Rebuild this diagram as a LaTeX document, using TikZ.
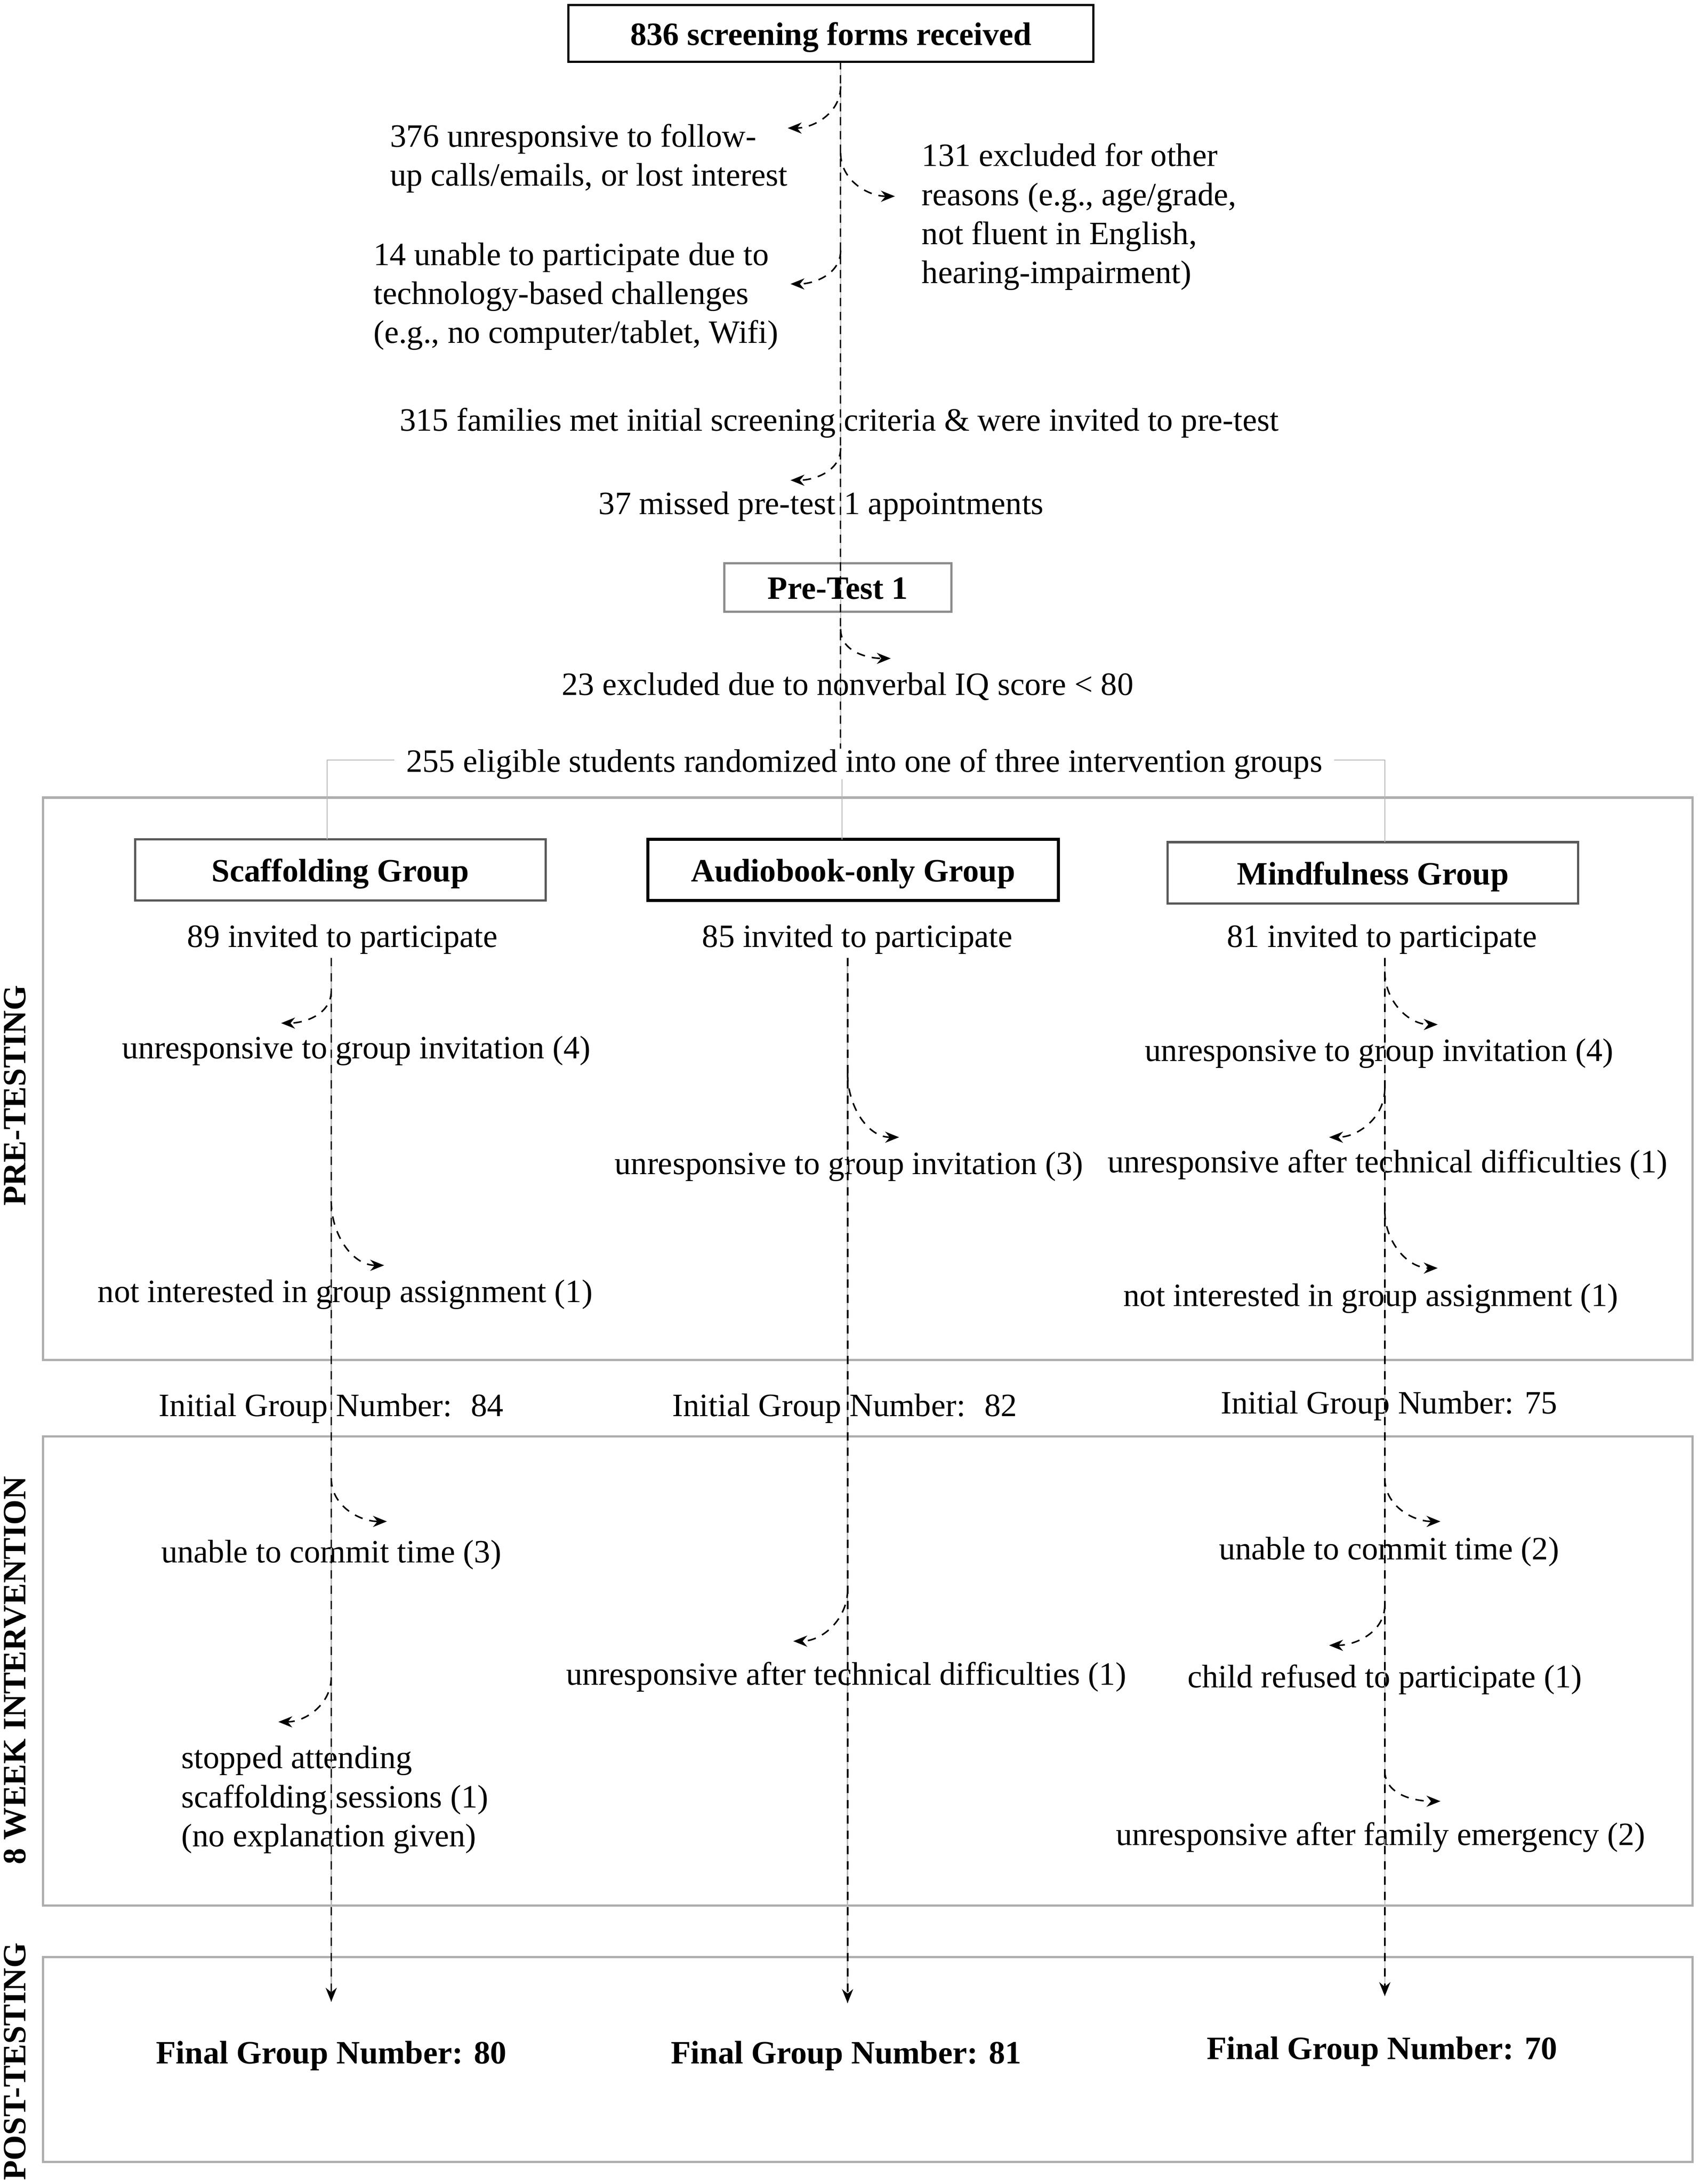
\documentclass[tikz,border=0pt]{standalone}
\usepackage{fontspec}
\setmainfont{Liberation Serif}
\usepackage{tikz}
\usetikzlibrary{arrows.meta}

\begin{document}
\begin{tikzpicture}[x=0.5pt,y=0.5pt]
  \tikzset{txt/.style = {font=\fontsize{11.7}{14}\selectfont, inner sep=0pt, align=center, text height=11pt, text depth=2.5pt}}
  \tikzset{ltxt/.style = {txt, align=left, anchor=base west}}
  \tikzset{btxt/.style = {txt, font=\fontsize{11.7}{14}\selectfont\bfseries}}
  \tikzset{box/.style = {btxt, draw, line width=0.8pt, minimum width=147.5pt, minimum height=22pt}}
  \tikzset{panel/.style = {draw=black!32, line width=0.8pt}}
  \tikzset{side/.style = {btxt, rotate=90}}
  \tikzset{link/.style = {draw=black!28, line width=0.4pt}}
  \tikzset{flow/.style = {line width=0.5pt, dash pattern=on 3pt off 2pt}}
  \tikzset{drop/.style = {flow, line width=0.55pt, dash pattern=on 3pt off 2.5pt, -{Stealth[length=5pt,width=4pt]}}}

  \useasboundingbox (0,0) rectangle (1220,-1569);

  % phase panels
  \draw[panel] (31,-573) rectangle (1216,-977);
  \draw[panel] (31,-1032) rectangle (1216,-1369);
  \draw[panel] (31,-1406) rectangle (1216,-1553);
  \node[side] (pre) at (10,-787) {PRE-TESTING};
  \node[side] (week) at (10,-1200) {8 WEEK INTERVENTION};
  \node[side] (post) at (10,-1481) {POST-TESTING};

  % screening
  \node[box, minimum width=188.5pt, minimum height=20.5pt] (forms) at (597,-24) {836 screening forms received};
  \node[ltxt] (lost) at (280,-133.5) {376 unresponsive to follow-\\up calls/emails, or lost interest};
  \node[ltxt] (other) at (662,-203.5) {131 excluded for other\\reasons (e.g., age/grade,\\not fluent in English,\\hearing-impairment)};
  \node[ltxt] (tech) at (268,-246.5) {14 unable to participate due to\\technology-based challenges\\(e.g., no computer/tablet, Wifi)};
  \node[txt] (met) at (603,-301) {315 families met initial screening criteria \& were invited to pre-test};
  \node[txt] (missed) at (590,-361) {37 missed pre-test 1 appointments};
  \node[box, draw=black!45, minimum width=81.5pt, minimum height=17.5pt] (pretest) at (602,-422) {Pre-Test 1};
  \node[txt] (iq) at (609,-491) {23 excluded due to nonverbal IQ score < 80};
  \node[txt, inner xsep=4pt] (rand) at (621,-546) {255 eligible students randomized into one of three intervention groups};

  % groups
  \node[box, draw=black!65] (scaf) at (244.5,-625) {Scaffolding Group};
  \node[box, line width=1.1pt] (audio) at (613,-625) {Audiobook-only Group};
  \node[box, draw=black!65] (mind) at (986.5,-627) {Mindfulness Group};

  \node[txt] (inv1) at (246,-672) {89 invited to participate};
  \node[txt] (inv2) at (616,-672) {85 invited to participate};
  \node[txt] (inv3) at (993,-672) {81 invited to participate};

  \node[txt] (s1) at (256,-752) {unresponsive to group invitation (4)};
  \node[txt] (s2) at (248,-927) {not interested in group assignment (1)};
  \node[txt] (a1) at (610,-835) {unresponsive to group invitation (3)};
  \node[txt] (m1) at (991,-754) {unresponsive to group invitation (4)};
  \node[txt] (m2) at (997,-834) {unresponsive after technical difficulties (1)};
  \node[txt] (m3) at (985,-930) {not interested in group assignment (1)};

  \node[txt] (init1) at (238,-1009) {Initial Group Number:~ 84};
  \node[txt] (init2) at (607,-1009) {Initial Group Number:~ 82};
  \node[txt] (init3) at (998,-1007) {Initial Group Number: 75};

  \node[txt] (s3) at (238,-1114) {unable to commit time (3)};
  \node[ltxt] (s4) at (130,-1326.5) {stopped attending\\scaffolding sessions (1)\\(no explanation given)};
  \node[txt] (a2) at (608,-1202) {unresponsive after technical difficulties (1)};
  \node[txt] (m4) at (998,-1112) {unable to commit time (2)};
  \node[txt] (m5) at (995,-1204) {child refused to participate (1)};
  \node[txt] (m6) at (992,-1317) {unresponsive after family emergency (2)};

  \node[btxt] (fin1) at (238,-1474) {Final Group Number: 80};
  \node[btxt] (fin2) at (608,-1474) {Final Group Number: 81};
  \node[btxt] (fin3) at (993,-1471) {Final Group Number: 70};

  % trunk and randomisation links
  \coordinate (trunktop) at (604,-44);
  \coordinate (trunkend) at (604,-538);
  \coordinate (sjoin) at (235,-603);
  \coordinate (ajoin) at (605,-603);
  \coordinate (mjoin) at (995,-605);
  \draw[link] (trunktop) -- (trunkend);
  \draw[flow] (trunktop) -- (trunkend);
  \draw[link] (rand.west) -| (sjoin);
  \draw[link] (rand.east) -| (mjoin);
  \draw[link] (rand.south -| ajoin) -- (ajoin);

  % group columns
  \foreach \col/\x/\yend in {s/238/1438, a/609/1439, m/995/1434}{
    \coordinate (\col top) at (\x,-688);
    \coordinate (\col end) at (\x,-\yend);
    \draw[link] (\col top) -- (\col end);
    \draw[drop] (\col top) -- (\col end);
  }

  % drop-outs to the left
  \foreach \n/\xa/\ya/\xb/\yb in {l1/604/62/566/92, l2/604/180/568/204, l3/604/322/568/345,
      l4/238/712/202/735, l5/995/782/955/817, l6/609/1142/570/1179, l7/238/1205/200/1237, l8/995/1153/955/1182}{
    \coordinate (\n a) at (\xa,-\ya);
    \coordinate (\n b) at (\xb,-\yb);
    \draw[drop] (\n a) to[out=-90, in=0] (\n b);
  }
  % drop-outs to the right
  \foreach \n/\xa/\ya/\xb/\yb in {r1/604/110/643/141, r2/604/452/640/473, r3/238/863/276/909,
      r4/609/771/646/817, r5/995/698/1033/736, r6/995/870/1033/911, r7/238/1062/278/1093,
      r8/995/1062/1035/1093, r9/995/1272/1035/1294}{
    \coordinate (\n a) at (\xa,-\ya);
    \coordinate (\n b) at (\xb,-\yb);
    \draw[drop] (\n a) to[out=-90, in=180] (\n b);
  }
\end{tikzpicture}
\end{document}
